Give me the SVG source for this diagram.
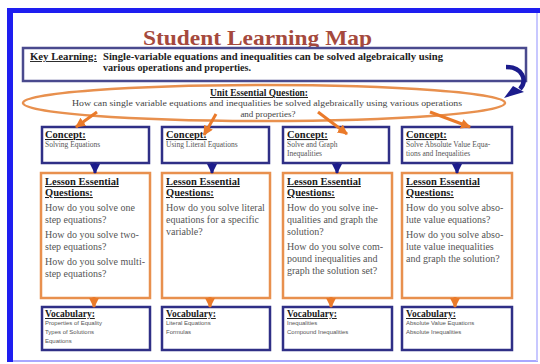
<svg xmlns="http://www.w3.org/2000/svg" width="540" height="364" viewBox="0 0 540 364" font-family="Liberation Serif, serif">
<style>
.navy{fill:#fff;stroke:#2f2f86;stroke-width:2.5}
.orng{fill:#fff;stroke:#e8904e;stroke-width:2.5}
.hd{font-weight:bold;fill:#1a1a1a;text-decoration:underline}
.cb{font-size:7.5px;fill:#555}
.lb{font-size:10px;fill:#555}
.vb{font-size:6px;fill:#555}
.kl{font-weight:bold;font-size:9.5px;fill:#222}
.uq{font-size:9px;fill:#444}
.oc{stroke:#ea7a2a;stroke-width:3;fill:none}
.bc{stroke:#1c1c8c;stroke-width:3;fill:none}
</style>
<defs>
<marker id="ah-o" markerUnits="userSpaceOnUse" markerWidth="12" markerHeight="12" refX="9" refY="5" orient="auto"><path d="M0,0 L10,5 L0,10 z" fill="#ea7a2a"/></marker>
<marker id="ah-b" markerUnits="userSpaceOnUse" markerWidth="12" markerHeight="12" refX="9" refY="5" orient="auto"><path d="M0,0 L10,5 L0,10 z" fill="#1c1c8c"/></marker>
</defs>
<rect x="0" y="0" width="540" height="364" fill="#fff"/>
<g id="frame">
<rect x="7" y="8" width="533" height="5" fill="#1e1ef0"/>
<rect x="7" y="8" width="6" height="354" fill="#1e1ef0"/>
<line x1="13" y1="361" x2="538" y2="361" stroke="#a8a8ff" stroke-width="2"/>
<line x1="537" y1="13" x2="537" y2="361" stroke="#c8c8ff" stroke-width="2"/>
</g>
<g id="title">
<text x="143" y="45" font-family="Liberation Serif, serif" font-weight="bold" font-size="21" fill="#a5493d" textLength="229" lengthAdjust="spacingAndGlyphs">Student Learning Map</text>
</g>
<g id="key-learning" font-family="Liberation Serif, serif">
<rect x="23" y="48" width="503" height="33" fill="#fff" stroke="#4a4a8e" stroke-width="2.5"/>
<text x="30" y="60" class="kl" text-decoration="underline" textLength="67" lengthAdjust="spacingAndGlyphs">Key Learning:</text>
<text x="103" y="60" class="kl" textLength="340" lengthAdjust="spacingAndGlyphs">Single-variable equations and inequalities can be solved algebraically using</text>
<text x="103" y="71" class="kl" textLength="148" lengthAdjust="spacingAndGlyphs">various operations  and properties.</text>
</g>
<g id="unit-question" font-family="Liberation Serif, serif">
<ellipse cx="264" cy="103" rx="241" ry="18" fill="#fff" stroke="#e8904e" stroke-width="2.5"/>
<text x="259" y="96" class="hd" font-size="9.5" text-anchor="middle" textLength="98" lengthAdjust="spacingAndGlyphs">Unit Essential Question:</text>
<text x="72" y="106" class="uq" textLength="390" lengthAdjust="spacingAndGlyphs">How can single variable equations and inequalities be solved algebraically using various operations</text>
<text x="268" y="117" class="uq" text-anchor="middle">and properties?</text>
</g>
<g id="concept-1" font-family="Liberation Serif, serif"><rect x="42" y="127" width="107" height="36" class="navy"/><text x="45" y="138" class="hd" font-size="10.5">Concept:</text><text x="45" y="147" class="cb">Solving Equations</text></g>
<g id="concept-2" font-family="Liberation Serif, serif"><rect x="162" y="127" width="107" height="36" class="navy"/><text x="166" y="138" class="hd" font-size="10.5">Concept:</text><text x="166" y="147" class="cb">Using Literal Equations</text></g>
<g id="concept-3" font-family="Liberation Serif, serif"><rect x="283" y="127" width="106" height="36" class="navy"/><text x="287" y="138" class="hd" font-size="10.5">Concept:</text><text x="287" y="147" class="cb">Solve and Graph</text><text x="287" y="156" class="cb">Inequalities</text></g>
<g id="concept-4" font-family="Liberation Serif, serif"><rect x="402" y="127" width="110" height="36" class="navy"/><text x="406" y="138" class="hd" font-size="10.5">Concept:</text><text x="406" y="147" class="cb">Solve Absolute Value Equa-</text><text x="406" y="156" class="cb">tions and Inequalities</text></g>
<g id="lesson-1" font-family="Liberation Serif, serif"><rect x="41" y="173" width="109" height="125" class="orng"/>
<text x="45" y="185" class="hd" font-size="10.5">Lesson Essential</text><text x="45" y="196" class="hd" font-size="10.5">Questions:</text>
<text x="45" y="211" class="lb">How do you solve one</text><text x="45" y="223" class="lb">step equations?</text>
<text x="45" y="238" class="lb">How do you solve two-</text><text x="45" y="250" class="lb">step equations?</text>
<text x="45" y="265" class="lb">How do you solve multi-</text><text x="45" y="277" class="lb">step equations?</text></g>
<g id="lesson-2" font-family="Liberation Serif, serif"><rect x="162" y="173" width="108" height="125" class="orng"/>
<text x="166" y="185" class="hd" font-size="10.5">Lesson Essential</text><text x="166" y="196" class="hd" font-size="10.5">Questions:</text>
<text x="166" y="211" class="lb">How do you solve literal</text><text x="166" y="223" class="lb">equations for a specific</text><text x="166" y="235" class="lb">variable?</text></g>
<g id="lesson-3" font-family="Liberation Serif, serif"><rect x="283" y="173" width="109" height="125" class="orng"/>
<text x="287" y="185" class="hd" font-size="10.5">Lesson Essential</text><text x="287" y="196" class="hd" font-size="10.5">Questions:</text>
<text x="287" y="211" class="lb">How do you solve ine-</text><text x="287" y="223" class="lb">qualities and graph the</text><text x="287" y="235" class="lb">solution?</text>
<text x="287" y="250" class="lb">How do you solve com-</text><text x="287" y="262" class="lb">pound inequalities and</text><text x="287" y="274" class="lb">graph the solution set?</text></g>
<g id="lesson-4" font-family="Liberation Serif, serif"><rect x="402" y="173" width="110" height="125" class="orng"/>
<text x="406" y="185" class="hd" font-size="10.5">Lesson Essential</text><text x="406" y="196" class="hd" font-size="10.5">Questions:</text>
<text x="406" y="211" class="lb">How do you solve abso-</text><text x="406" y="223" class="lb">lute value equations?</text>
<text x="406" y="238" class="lb">How do you solve abso-</text><text x="406" y="250" class="lb">lute value inequalities</text><text x="406" y="262" class="lb">and graph the solution?</text></g>
<g id="vocab-1" font-family="Liberation Serif, serif"><rect x="42" y="307" width="108" height="43" class="navy"/><text x="45" y="317" class="hd" font-size="9.5">Vocabulary:</text><g font-family="Liberation Sans, sans-serif"><text x="45" y="325" class="vb">Properties of Equality</text><text x="45" y="334" class="vb">Types of Solutions</text><text x="45" y="343" class="vb">Equations</text></g></g>
<g id="vocab-2" font-family="Liberation Serif, serif"><rect x="162" y="307" width="108" height="43" class="navy"/><text x="166" y="317" class="hd" font-size="9.5">Vocabulary:</text><g font-family="Liberation Sans, sans-serif"><text x="166" y="325" class="vb">Literal Equations</text><text x="166" y="334" class="vb">Formulas</text></g></g>
<g id="vocab-3" font-family="Liberation Serif, serif"><rect x="283" y="307" width="109" height="43" class="navy"/><text x="287" y="317" class="hd" font-size="9.5">Vocabulary:</text><g font-family="Liberation Sans, sans-serif"><text x="287" y="325" class="vb">Inequalities</text><text x="287" y="334" class="vb">Compound Inequalities</text></g></g>
<g id="vocab-4" font-family="Liberation Serif, serif"><rect x="402" y="307" width="110" height="43" class="navy"/><text x="406" y="317" class="hd" font-size="9.5">Vocabulary:</text><g font-family="Liberation Sans, sans-serif"><text x="406" y="325" class="vb">Absolute Value Equations</text><text x="406" y="334" class="vb">Absolute Inequalities</text></g></g>
<g id="connectors">
<path d="M506,67 C522,67 528,80 520,89" stroke="#1c1c8c" stroke-width="4.5" fill="none"/>
<path d="M513,86 L524,92 L504,98 z" fill="#1c1c8c"/>
<line x1="97" y1="112" x2="76" y2="127" class="oc" marker-end="url(#ah-o)"/>
<line x1="216" y1="114" x2="204" y2="135" class="oc" marker-end="url(#ah-o)"/>
<line x1="318" y1="112" x2="347" y2="134" class="oc" marker-end="url(#ah-o)"/>
<line x1="430" y1="112" x2="470" y2="127" class="oc" marker-end="url(#ah-o)"/>
<line x1="95" y1="163" x2="95" y2="173" class="bc" marker-end="url(#ah-b)"/>
<line x1="212" y1="163" x2="212" y2="173" class="bc" marker-end="url(#ah-b)"/>
<line x1="337" y1="163" x2="337" y2="173" class="bc" marker-end="url(#ah-b)"/>
<line x1="457" y1="163" x2="457" y2="173" class="bc" marker-end="url(#ah-b)"/>
<line x1="94" y1="297" x2="94" y2="307" class="oc" marker-end="url(#ah-o)"/>
<line x1="210" y1="297" x2="210" y2="307" class="oc" marker-end="url(#ah-o)"/>
<line x1="331" y1="297" x2="331" y2="307" class="oc" marker-end="url(#ah-o)"/>
<line x1="455" y1="297" x2="455" y2="307" class="oc" marker-end="url(#ah-o)"/>
</g>
</svg>
